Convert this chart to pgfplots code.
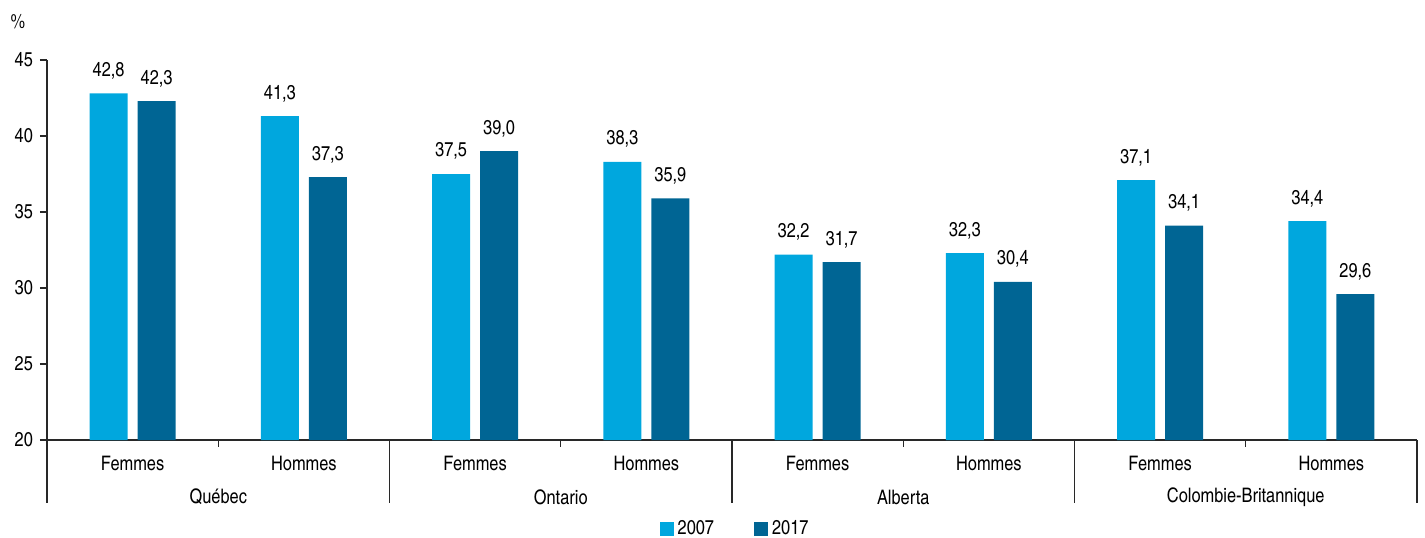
\documentclass[border=0pt]{standalone}
\usepackage{fontspec}
\setmainfont{TeX Gyre Heros Cn}
\usepackage{pgfplots}
\usepackage{pgfplotstable}
\pgfplotsset{compat=1.18}
\definecolor{c07}{RGB}{0,167,222}
\definecolor{c17}{RGB}{0,101,148}
\definecolor{axgray}{RGB}{40,40,40}

% x: 0..7 = Femmes/Hommes for each province
\pgfplotstableread{
x  a2007 a2017
0  42.8  42.3
1  41.3  37.3
2  37.5  39.0
3  38.3  35.9
4  32.2  31.7
5  32.3  30.4
6  37.1  34.1
7  34.4  29.6
}\data

\begin{document}
\begin{tikzpicture}[font=\fontsize{10}{12}\selectfont]
\begin{axis}[
    scale only axis, width=685pt, height=190pt,
    xmin=-0.5, xmax=7.5, ymin=20, ymax=45,
    ybar, bar width=0.222,
    axis x line*=bottom, axis y line*=left,
    axis line style={axgray, line width=0.7pt},
    ytick={20,25,...,45}, tick align=outside, major tick length=3.5pt,
    y tick style={axgray, line width=0.7pt},
    xtick={0,...,7}, x tick style={draw=none},
    xticklabels={Femmes,Hommes,Femmes,Hommes,Femmes,Hommes,Femmes,Hommes},
    xticklabel style={yshift=-1pt},
    /pgf/number format/assume math mode=true,
    tick label style={font=\fontsize{10}{12}\selectfont},
    clip=false,
    legend style={at={(0.503,-0.234)}, anchor=center, draw=none, fill=none,
        legend columns=2, font=\fontsize{10}{12}\selectfont,
        /tikz/every even column/.append style={column sep=18pt}},
    nodes near coords={\pgfmathprintnumber[fixed,fixed zerofill,precision=1,use comma,assume math mode=true]{\pgfplotspointmeta}},
    every node near coord/.append style={yshift=3.5pt, font=\fontsize{10}{12}\selectfont},
]
\addplot[bar shift=-0.14, fill=c07, draw=none,
    legend image code/.code={\fill[c07] (-2pt,-3.5pt) rectangle (5pt,3.5pt);}]
    table[x=x, y=a2007] {\data};
\addlegendentry{2007}
\addplot[bar shift=0.14, fill=c17, draw=none,
    legend image code/.code={\fill[c17] (-2pt,-3.5pt) rectangle (5pt,3.5pt);}]
    table[x=x, y=a2017] {\data};
\addlegendentry{2017}

\draw[axgray, line width=0.7pt] (axis cs:0.5,20) -- ++(0pt,-3.5pt);
\draw[axgray, line width=0.7pt] (axis cs:2.5,20) -- ++(0pt,-3.5pt);
\draw[axgray, line width=0.7pt] (axis cs:4.5,20) -- ++(0pt,-3.5pt);
\draw[axgray, line width=0.7pt] (axis cs:6.5,20) -- ++(0pt,-3.5pt);
\draw[axgray, line width=0.7pt] (axis cs:-0.5,20) -- ++(0pt,-31.5pt);
\draw[axgray, line width=0.7pt] (axis cs:1.5,20) -- ++(0pt,-31.5pt);
\draw[axgray, line width=0.7pt] (axis cs:3.5,20) -- ++(0pt,-31.5pt);
\draw[axgray, line width=0.7pt] (axis cs:5.5,20) -- ++(0pt,-31.5pt);
\draw[axgray, line width=0.7pt] (axis cs:7.5,20) -- ++(0pt,-31.5pt);

\node at ([yshift=-28.5pt]axis cs:0.5,20) {Québec};
\node at ([yshift=-28.5pt]axis cs:2.5,20) {Ontario};
\node at ([yshift=-28.5pt]axis cs:4.5,20) {Alberta};
\node at ([yshift=-28.5pt]axis cs:6.5,20) {Colombie-Britannique};
\node at ([xshift=-14.5pt,yshift=19pt]rel axis cs:0,1) {\%};
\end{axis}
\pgfresetboundingbox
\path ([xshift=-23.5pt,yshift=-48.5pt]current axis.south west)
    rectangle ([xshift=4pt,yshift=30pt]current axis.north east);
\end{tikzpicture}
\end{document}
